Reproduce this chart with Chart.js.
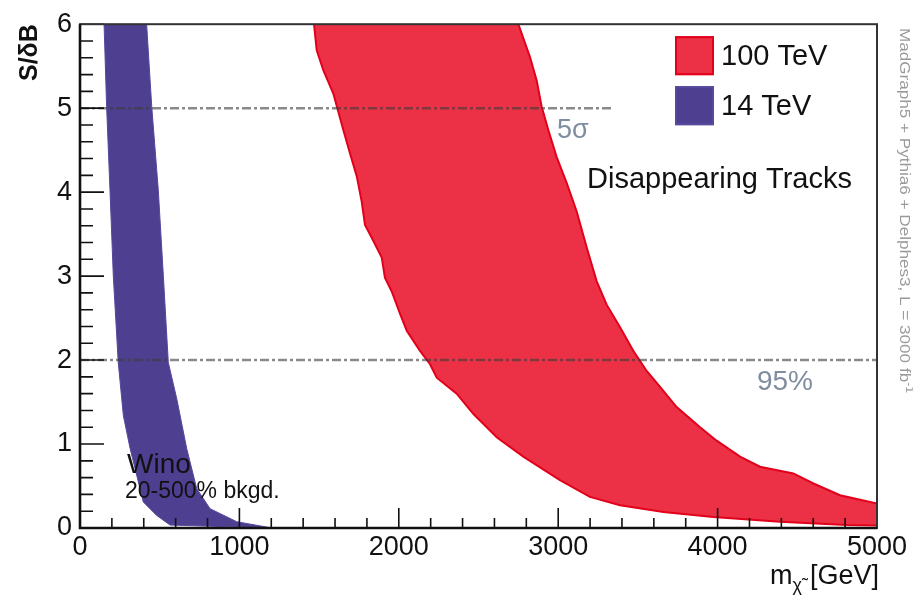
<!DOCTYPE html>
<html>
<head>
<meta charset="utf-8">
<script src="https://cdn.jsdelivr.net/npm/chart.js@4.4.0/dist/chart.umd.min.js"></script>
<style>
  html, body { margin: 0; padding: 0; background: #fff; }
</style>
</head>
<body>
<canvas id="chart" width="913" height="601"></canvas>
<script>
// 100 TeV band, lower (left) edge: mass [GeV] and S/dB
const red_lo_m = [1468, 1485, 1527, 1590, 1652, 1694, 1736, 1767, 1788, 1840, 1893, 1913, 1955, 2008, 2050, 2133, 2196, 2238, 2363, 2467, 2614, 2781, 3011, 3199, 3388, 3660, 3973, 4391, 4810, 5000]
const red_lo_s = [6.0, 5.69, 5.45, 5.17, 4.74, 4.46, 4.19, 3.89, 3.61, 3.42, 3.22, 2.98, 2.82, 2.55, 2.35, 2.11, 1.95, 1.79, 1.60, 1.36, 1.08, 0.85, 0.57, 0.37, 0.27, 0.19, 0.13, 0.075, 0.035, 0.03]
// 100 TeV band, upper (right) edge
const red_hi_m = [2750, 2823, 2865, 2896, 2938, 2990, 3053, 3116, 3179, 3241, 3304, 3388, 3471, 3555, 3639, 3743, 3890, 3994, 4141, 4266, 4475, 4601, 4768, 5000]
const red_hi_s = [6.0, 5.61, 5.33, 5.02, 4.74, 4.42, 4.11, 3.77, 3.34, 2.94, 2.66, 2.39, 2.11, 1.87, 1.68, 1.44, 1.20, 1.04, 0.85, 0.73, 0.65, 0.53, 0.39, 0.29]

// 14 TeV band
const blue_lo_m = [151, 167, 188, 209, 240, 272, 314, 397, 481, 565]
const blue_lo_s = [6.0, 5.02, 4.03, 3.0, 1.97, 1.34, 0.95, 0.31, 0.15, 0.035]
const blue_hi_m = [418, 450, 491, 523, 554, 607, 669, 732, 816, 983, 1203]
const blue_hi_s = [6.0, 5.02, 4.03, 3.0, 1.97, 1.54, 0.95, 0.47, 0.23, 0.075, 0.0]

// reference lines
const sigma5 = 5, sigma5End = 3340
const cl95 = 2, cl95End = 5000

const xTicks = [0, 1000, 2000, 3000, 4000, 5000]
const yTicks = [0, 1, 2, 3, 4, 5, 6]

// text notes placed in data coordinates
const notes = [
  { text: '5σ', m: 2992, s: 4.73, font: '27px "Liberation Sans"', color: 'rgb(128,140,160)' },
  { text: '95%', m: 4247, s: 1.74, font: '28px "Liberation Sans"', color: 'rgb(128,140,160)' },
  { text: 'Disappearing Tracks', m: 3181, s: 4.15, font: '29px "Liberation Sans"', color: '#111' },
  { text: 'Wino', m: 295, s: 0.75, font: '28px "Liberation Sans"', color: '#111' },
  { text: '20-500% bkgd.', m: 282, s: 0.43, font: '23px "Liberation Sans"', color: '#111' }
]

function band(loM, loS, hiM, hiS) {
  const pts = loM.map((m, i) => ({ x: m, y: loS[i] }))
  for (let i = hiM.length - 1; i >= 0; i--) pts.push({ x: hiM[i], y: hiS[i] })
  return pts
}

const frame = {
  id: 'frame',
  afterDatasetsDraw(chart) {
    const { ctx, chartArea: a, scales: { x, y } } = chart
    ctx.save()
    ctx.strokeStyle = '#111'
    ctx.lineWidth = 1.6
    ctx.beginPath()
    for (let v = 0; v <= 5000; v += 200) {
      const px = x.getPixelForValue(v)
      const len = v % 1000 === 0 ? 20 : 10
      ctx.moveTo(px, a.bottom)
      ctx.lineTo(px, a.bottom - len)
    }
    for (let i = 0; i <= 30; i++) {
      const py = y.getPixelForValue(i / 5)
      const len = i % 5 === 0 ? 24 : 13
      ctx.moveTo(a.left, py)
      ctx.lineTo(a.left + len, py)
    }
    ctx.stroke()

    ctx.lineWidth = 2
    ctx.strokeStyle = '#333'
    ctx.strokeRect(a.left, a.top, a.right - a.left, a.bottom - a.top)
    ctx.lineWidth = 2.6
    ctx.strokeStyle = '#111'
    ctx.beginPath()
    ctx.moveTo(a.left, a.top)
    ctx.lineTo(a.left, a.bottom)
    ctx.lineTo(a.right, a.bottom)
    ctx.stroke()

    // notes
    ctx.textBaseline = 'middle'
    ctx.textAlign = 'left'
    notes.forEach(n => {
      ctx.font = n.font
      ctx.fillStyle = n.color
      ctx.fillText(n.text, x.getPixelForValue(n.m), y.getPixelForValue(n.s))
    })

    // legend
    const lx = a.right - 202, ly = a.top + 12
    chart.data.datasets.filter(d => d.fill === 'shape').forEach((d, i) => {
      const by = ly + i * 50
      ctx.fillStyle = d.backgroundColor
      ctx.strokeStyle = d.borderColor
      ctx.lineWidth = 2
      ctx.fillRect(lx, by, 39, 39)
      ctx.strokeRect(lx + 1, by + 1, 37, 37)
      ctx.fillStyle = '#111'
      ctx.font = '29px "Liberation Sans"'
      ctx.fillText(d.label, lx + 46, by + 21)
    })

    // y title
    ctx.save()
    ctx.translate(30, a.top)
    ctx.rotate(-Math.PI / 2)
    ctx.font = 'bold 25px "Liberation Sans"'
    ctx.textAlign = 'right'
    ctx.fillStyle = '#111'
    ctx.fillText('S/δB', 0, 0)
    ctx.restore()

    // x title
    ctx.font = '27px "Liberation Sans"'
    const tail = '[GeV]'
    const wTail = ctx.measureText(tail).width
    ctx.textAlign = 'right'
    ctx.fillStyle = '#111'
    ctx.fillText(tail, a.right + 2, 577)
    ctx.font = '18px "Liberation Sans"'
    const wSub = ctx.measureText('χ̃').width
    ctx.fillText('χ̃', a.right + 2 - wTail - 8, 586)
    ctx.font = '27px "Liberation Sans"'
    ctx.fillText('m', a.right + 2 - wTail - 8 - wSub, 577)

    // side caption
    ctx.save()
    ctx.translate(904, 28)
    ctx.rotate(Math.PI / 2)
    ctx.font = '14px "Liberation Sans"'
    const cap = 'MadGraph5 + Pythia6 + Delphes3, L = 3000 fb'
    const wCap = ctx.measureText(cap).width
    ctx.font = '10px "Liberation Sans"'
    const wSup = ctx.measureText('-1').width
    ctx.scale(365 / (wCap + wSup), 1)
    ctx.fillStyle = '#9a9a9a'
    ctx.textAlign = 'left'
    ctx.font = '14px "Liberation Sans"'
    ctx.fillText(cap, 0, 0)
    ctx.font = '10px "Liberation Sans"'
    ctx.fillText('-1', wCap, -5)
    ctx.restore()

    ctx.restore()
  }
}

new Chart(document.getElementById('chart'), {
  type: 'scatter',
  plugins: [frame],
  data: {
    datasets: [
      {
        label: '5σ',
        data: [{ x: 0, y: sigma5 }, { x: sigma5End, y: sigma5 }],
        showLine: true,
        borderColor: 'rgba(60,60,60,0.6)',
        borderWidth: 2.5,
        borderDash: [9, 3, 3, 3],
        pointRadius: 0,
        order: 0
      },
      {
        label: '95%',
        data: [{ x: 0, y: cl95 }, { x: cl95End, y: cl95 }],
        showLine: true,
        borderColor: 'rgba(60,60,60,0.6)',
        borderWidth: 2.5,
        borderDash: [9, 3, 3, 3],
        pointRadius: 0,
        order: 0
      },
      {
        label: '100 TeV',
        data: band(red_lo_m, red_lo_s, red_hi_m, red_hi_s),
        showLine: true,
        fill: 'shape',
        backgroundColor: 'rgb(236,49,70)',
        borderColor: 'rgb(226,0,26)',
        borderWidth: 2,
        pointRadius: 0,
        order: 1
      },
      {
        label: '14 TeV',
        data: band(blue_lo_m, blue_lo_s, blue_hi_m, blue_hi_s),
        showLine: true,
        fill: 'shape',
        backgroundColor: 'rgb(78,63,145)',
        borderColor: 'rgb(86,72,156)',
        borderWidth: 1,
        pointRadius: 0,
        order: 1
      }
    ]
  },
  options: {
    responsive: false,
    animation: false,
    layout: { padding: { left: 0, right: 36, top: 22, bottom: 0 } },
    plugins: {
      legend: { display: false },
      tooltip: { enabled: false }
    },
    scales: {
      x: {
        type: 'linear',
        min: 0,
        max: 5000,
        afterFit: s => { s.height = 73 },
        afterBuildTicks: s => { s.ticks = xTicks.map(v => ({ value: v })) },
        grid: { display: false, drawTicks: false },
        border: { display: false },
        ticks: {
          padding: 3,
          color: '#111',
          maxRotation: 0,
          callback: v => String(v),
          font: { family: 'Liberation Sans', size: 27 }
        }
      },
      y: {
        type: 'linear',
        min: 0,
        max: 6,
        afterFit: s => { s.width = 80 },
        afterBuildTicks: s => { s.ticks = yTicks.map(v => ({ value: v })) },
        grid: { display: false, drawTicks: false },
        border: { display: false },
        ticks: {
          padding: 8,
          color: '#111',
          callback: v => String(v),
          font: { family: 'Liberation Sans', size: 27 }
        }
      }
    }
  }
})
</script>
</body>
</html>
